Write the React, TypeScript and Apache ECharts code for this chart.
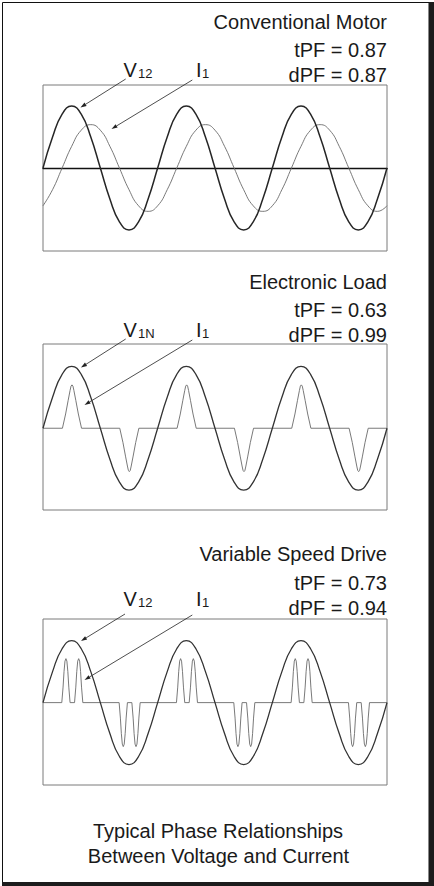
import React, { useEffect, useRef } from "react";
import * as echarts from "echarts";

// phase angle (degrees) of the sine samples
const sineAngles = [
  0, 30, 60, 90, 120, 150, 180, 210, 240, 270, 300, 330,
  360, 390, 420, 450, 480, 510, 540, 570, 600, 630, 660, 690,
  720, 750, 780, 810, 840, 870, 900, 930, 960, 990, 1020, 1050, 1080,
];

// voltage (normalised to its peak)
const voltageWave = [
  0, 0.5, 0.87, 1, 0.87, 0.5, 0, -0.5, -0.87, -1, -0.87, -0.5,
  0, 0.5, 0.87, 1, 0.87, 0.5, 0, -0.5, -0.87, -1, -0.87, -0.5,
  0, 0.5, 0.87, 1, 0.87, 0.5, 0, -0.5, -0.87, -1, -0.87, -0.5, 0,
];

// conventional motor current, lagging the voltage
const motorCurrent = [
  -0.61, -0.35, 0, 0.35, 0.61, 0.7, 0.61, 0.35, 0, -0.35, -0.61, -0.7,
  -0.61, -0.35, 0, 0.35, 0.61, 0.7, 0.61, 0.35, 0, -0.35, -0.61, -0.7,
  -0.61, -0.35, 0, 0.35, 0.61, 0.7, 0.61, 0.35, 0, -0.35, -0.61, -0.7, -0.61,
];

// electronic load current [angle, value]
const electronicCurrent: [number, number][] = [
  [0, 0],
  [61, 0], [71, 0.23], [79, 0.45], [85, 0.61], [88, 0.68], [91, 0.7], [94, 0.68], [97, 0.61], [103, 0.45], [111, 0.23], [121, 0],
  [241, 0], [251, -0.23], [259, -0.45], [265, -0.61], [268, -0.68], [271, -0.7], [274, -0.68], [277, -0.61], [283, -0.45], [291, -0.23], [301, 0],
  [421, 0], [431, 0.23], [439, 0.45], [445, 0.61], [448, 0.68], [451, 0.7], [454, 0.68], [457, 0.61], [463, 0.45], [471, 0.23], [481, 0],
  [601, 0], [611, -0.23], [619, -0.45], [625, -0.61], [628, -0.68], [631, -0.7], [634, -0.68], [637, -0.61], [643, -0.45], [651, -0.23], [661, 0],
  [781, 0], [791, 0.23], [799, 0.45], [805, 0.61], [808, 0.68], [811, 0.7], [814, 0.68], [817, 0.61], [823, 0.45], [831, 0.23], [841, 0],
  [961, 0], [971, -0.23], [979, -0.45], [985, -0.61], [988, -0.68], [991, -0.7], [994, -0.68], [997, -0.61], [1003, -0.45], [1011, -0.23], [1021, 0],
  [1080, 0],
];

// variable speed drive current [angle, value]
const vsdCurrent: [number, number][] = [
  [0, 0],
  [59, 0], [63, 0.25], [66, 0.5], [69, 0.67], [72, 0.71], [75, 0.67], [78, 0.5], [81, 0.25], [85, 0],
  [99, 0], [103, 0.25], [106, 0.5], [109, 0.67], [112, 0.71], [115, 0.67], [118, 0.5], [121, 0.25], [125, 0],
  [239, 0], [243, -0.25], [246, -0.5], [249, -0.67], [252, -0.71], [255, -0.67], [258, -0.5], [261, -0.25], [265, 0],
  [279, 0], [283, -0.25], [286, -0.5], [289, -0.67], [292, -0.71], [295, -0.67], [298, -0.5], [301, -0.25], [305, 0],
  [419, 0], [423, 0.25], [426, 0.5], [429, 0.67], [432, 0.71], [435, 0.67], [438, 0.5], [441, 0.25], [445, 0],
  [459, 0], [463, 0.25], [466, 0.5], [469, 0.67], [472, 0.71], [475, 0.67], [478, 0.5], [481, 0.25], [485, 0],
  [599, 0], [603, -0.25], [606, -0.5], [609, -0.67], [612, -0.71], [615, -0.67], [618, -0.5], [621, -0.25], [625, 0],
  [639, 0], [643, -0.25], [646, -0.5], [649, -0.67], [652, -0.71], [655, -0.67], [658, -0.5], [661, -0.25], [665, 0],
  [779, 0], [783, 0.25], [786, 0.5], [789, 0.67], [792, 0.71], [795, 0.67], [798, 0.5], [801, 0.25], [805, 0],
  [819, 0], [823, 0.25], [826, 0.5], [829, 0.67], [832, 0.71], [835, 0.67], [838, 0.5], [841, 0.25], [845, 0],
  [959, 0], [963, -0.25], [966, -0.5], [969, -0.67], [972, -0.71], [975, -0.67], [978, -0.5], [981, -0.25], [985, 0],
  [999, 0], [1003, -0.25], [1006, -0.5], [1009, -0.67], [1012, -0.71], [1015, -0.67], [1018, -0.5], [1021, -0.25], [1025, 0],
  [1080, 0],
];

const panelTitles = ["Conventional Motor", "Electronic Load", "Variable Speed Drive"];
const tpfLabels = ["tPF = 0.87", "tPF = 0.63", "tPF = 0.73"];
const dpfLabels = ["dPF = 0.87", "dPF = 0.99", "dPF = 0.94"];
const voltageSubs = ["12", "1N", "12"];
const currentSub = "1";
const footerLines = ["Typical Phase Relationships", "Between Voltage and Current"];

const FONT = '"Liberation Sans", Arial, Helvetica, sans-serif';
const INK = "#1a1a1a";

function arrow(x1: number, y1: number, x2: number, y2: number): any[] {
  const dx = x2 - x1;
  const dy = y2 - y1;
  const len = Math.sqrt(dx * dx + dy * dy);
  const ux = dx / len;
  const uy = dy / len;
  const hl = 6;
  const hw = 2;
  const bx = x2 - ux * hl;
  const by = y2 - uy * hl;
  return [
    {
      type: "line",
      shape: { x1, y1, x2: bx, y2: by },
      style: { stroke: "#222", lineWidth: 0.8 },
      silent: true,
    },
    {
      type: "polygon",
      shape: {
        points: [
          [x2, y2],
          [bx - uy * hw, by + ux * hw],
          [bx + uy * hw, by - ux * hw],
        ],
      },
      style: { fill: "#222" },
      silent: true,
    },
  ];
}

function text(str: string, x: number, y: number, size: number, align: string): any {
  return {
    type: "text",
    x,
    y,
    silent: true,
    style: {
      text: str,
      fontSize: size,
      fontFamily: FONT,
      fill: INK,
      align,
      verticalAlign: "middle",
    },
  };
}

export default function App() {
  const ref = useRef<HTMLDivElement>(null);

  useEffect(() => {
    if (!ref.current) return;
    const chart = echarts.init(ref.current, undefined, { renderer: "svg" });

    const gridTops = [85, 344, 619];
    const gridH = 166;
    const yRanges: [number, number][] = [
      [-1.34, 1.34],
      [-1.32, 1.36],
      [-1.33, 1.35],
    ];
    const titleY = [21.5, 282, 553.5];
    const tpfY = [50, 310, 582.5];
    const dpfY = [75, 335, 607.5];
    const labelY = [69.5, 330, 598.5];
    const arrowsV = [
      [125.7, 79, 80.5, 107.5],
      [125.7, 339, 81, 367.5],
      [125, 614, 81, 641],
    ];
    const arrowsI = [
      [192.3, 80, 111.5, 129],
      [192.3, 340, 84.5, 405],
      [192.3, 615, 84.5, 680],
    ];

    const sinePairs = (vals: number[]) => sineAngles.map((a, i) => [a, vals[i]]);

    const grids = gridTops.map((top) => ({
      left: 43,
      top,
      width: 344,
      height: gridH,
      show: true,
      borderColor: "#7a7a7a",
      borderWidth: 1,
      backgroundColor: "transparent",
    }));

    const xAxes = gridTops.map((_, i) => ({
      type: "value",
      gridIndex: i,
      min: 0,
      max: 1080,
      axisLabel: { show: false },
      axisTick: { show: false },
      splitLine: { show: false },
      axisLine: {
        show: i === 0,
        onZero: true,
        lineStyle: { color: "#111", width: 1.4 },
      },
    }));

    const yAxes = gridTops.map((_, i) => ({
      type: "value",
      gridIndex: i,
      min: yRanges[i][0],
      max: yRanges[i][1],
      axisLabel: { show: false },
      axisTick: { show: false },
      splitLine: { show: false },
      axisLine: { show: false },
    }));

    const vStyle = { color: "#333", width: 1.3 };
    const iStyle = { color: "#6a6a6a", width: 0.9 };

    const series: any[] = [
      {
        type: "line", xAxisIndex: 0, yAxisIndex: 0, data: sinePairs(motorCurrent),
        smooth: true, showSymbol: false, lineStyle: iStyle, z: 2,
      },
      {
        type: "line", xAxisIndex: 0, yAxisIndex: 0, data: sinePairs(voltageWave),
        smooth: true, showSymbol: false, lineStyle: { color: "#262626", width: 1.5 }, z: 3,
      },
      {
        type: "line", xAxisIndex: 1, yAxisIndex: 1, data: electronicCurrent,
        smooth: false, showSymbol: false, lineStyle: iStyle, z: 2,
      },
      {
        type: "line", xAxisIndex: 1, yAxisIndex: 1, data: sinePairs(voltageWave),
        smooth: true, showSymbol: false, lineStyle: vStyle, z: 3,
      },
      {
        type: "line", xAxisIndex: 2, yAxisIndex: 2, data: vsdCurrent,
        smooth: false, showSymbol: false, lineStyle: iStyle, z: 2,
      },
      {
        type: "line", xAxisIndex: 2, yAxisIndex: 2, data: sinePairs(voltageWave),
        smooth: true, showSymbol: false, lineStyle: vStyle, z: 3,
      },
    ];

    const graphics: any[] = [
      {
        type: "rect",
        shape: { x: 2.5, y: 2.5, width: 426.5, height: 880 },
        style: { fill: "none", stroke: "#111", lineWidth: 1 },
        silent: true,
      },
      { type: "rect", shape: { x: 429, y: 2, width: 5, height: 884 }, style: { fill: "#1c1c1c" }, silent: true },
      { type: "rect", shape: { x: 2, y: 882, width: 432, height: 4 }, style: { fill: "#1c1c1c" }, silent: true },
    ];

    for (let i = 0; i < 3; i++) {
      graphics.push(text(panelTitles[i], 387, titleY[i], 20, "right"));
      graphics.push(text(tpfLabels[i], 387, tpfY[i], 20, "right"));
      graphics.push(text(dpfLabels[i], 387, dpfY[i], 20, "right"));
      graphics.push(text("V", 123.5, labelY[i], 20, "left"));
      graphics.push(text(voltageSubs[i], 138, labelY[i] + 3.5, 13, "left"));
      graphics.push(text("I", 196, labelY[i], 20, "left"));
      graphics.push(text(currentSub, 202, labelY[i] + 3.5, 13, "left"));
      const av = arrowsV[i];
      const ai = arrowsI[i];
      graphics.push(...arrow(av[0], av[1], av[2], av[3]));
      graphics.push(...arrow(ai[0], ai[1], ai[2], ai[3]));
    }
    graphics.push(text(footerLines[0], 218, 830.5, 20, "center"));
    graphics.push(text(footerLines[1], 218.5, 855.5, 20, "center"));

    chart.setOption({
      animation: false,
      backgroundColor: "#ffffff",
      grid: grids,
      xAxis: xAxes,
      yAxis: yAxes,
      series,
      graphic: { elements: graphics },
    });

    return () => {
      chart.dispose();
    };
  }, []);

  return (
    <div
      ref={ref}
      style={{ position: "fixed", left: 0, top: 0, width: 434, height: 886, background: "#fff" }}
    />
  );
}
